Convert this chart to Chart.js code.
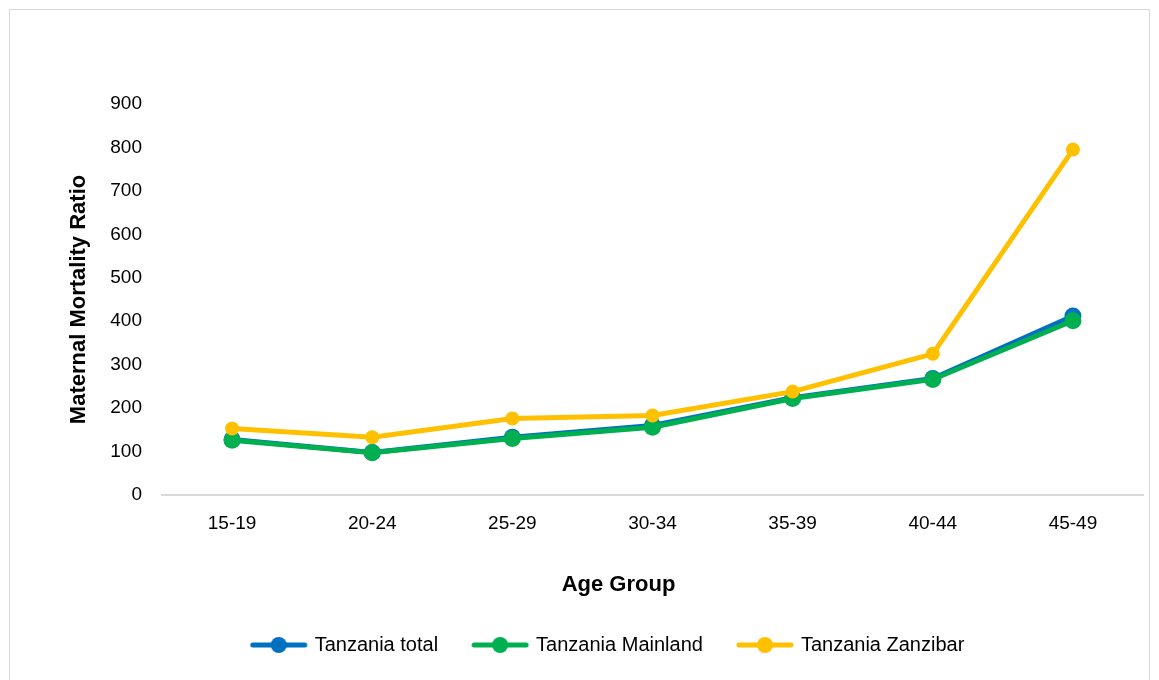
<!DOCTYPE html>
<html>
<head>
<meta charset="utf-8">
<script src="https://cdn.jsdelivr.net/npm/chart.js@4.4.0/dist/chart.umd.min.js"></script>
<style>
  html, body { margin: 0; padding: 0; background: #ffffff; }
  #frame { position: absolute; left: 9px; top: 9px; width: 1141px; height: 672px; border: 1px solid #d9d9d9; box-sizing: border-box; }
  #wrap { position: absolute; left: 0; top: 0; width: 1159px; height: 680px; }
</style>
</head>
<body>
<div id="frame"></div>
<div id="wrap"><canvas id="c" width="1159" height="680"></canvas></div>
<script>
const categories = ["15-19", "20-24", "25-29", "30-34", "35-39", "40-44", "45-49"];
const tanzaniaTotal = [128, 98, 133, 160, 224, 268, 412];
const tanzaniaMainland = [126, 97, 130, 156, 222, 266, 401];
const tanzaniaZanzibar = [153, 133, 176, 183, 238, 325, 795];
const seriesNames = ["Tanzania total", "Tanzania Mainland", "Tanzania Zanzibar"];
const yTicks = [0, 100, 200, 300, 400, 500, 600, 700, 800, 900];
const xTitle = "Age Group";
const yTitle = "Maternal Mortality Ratio";

const FONT = "'Liberation Sans Narrow', 'Arial Narrow', 'Liberation Sans', Arial, sans-serif";
const colors = ["#0070C0", "#00B050", "#FFC000"];

function legendIcon(color) {
  const cv = document.createElement('canvas');
  cv.width = 60; cv.height = 20;
  const g = cv.getContext('2d');
  g.strokeStyle = color; g.lineWidth = 5; g.lineCap = 'round';
  g.beginPath(); g.moveTo(4, 10); g.lineTo(56, 10); g.stroke();
  g.fillStyle = color;
  g.beginPath(); g.arc(30, 10, 8, 0, Math.PI * 2); g.fill();
  return cv;
}
const icons = colors.map(legendIcon);

const ds = (label, data, color, order, r) => ({
  label, data, borderColor: color, backgroundColor: color,
  borderWidth: 5, pointRadius: r, pointHoverRadius: r, pointBorderWidth: 0,
  pointBackgroundColor: color, tension: 0, order
});

const xTitlePlugin = {
  id: 'xTitlePlugin',
  afterDraw(chart) {
    const ctx = chart.ctx, a = chart.chartArea;
    ctx.save();
    ctx.font = "bold 22px " + FONT;
    ctx.fillStyle = '#000';
    ctx.textAlign = 'center';
    ctx.textBaseline = 'middle';
    ctx.fillText(xTitle, (a.left + a.right) / 2 - 34, a.bottom + 90);
    ctx.restore();
  }
};

new Chart(document.getElementById('c'), {
  type: 'line',
  data: {
    labels: categories,
    datasets: [
      ds(seriesNames[0], tanzaniaTotal, colors[0], 3, 8.5),
      ds(seriesNames[1], tanzaniaMainland, colors[1], 2, 8.5),
      ds(seriesNames[2], tanzaniaZanzibar, colors[2], 1, 7)
    ]
  },
  plugins: [xTitlePlugin],
  options: {
    responsive: false,
    animation: false,
    layout: { padding: { left: 74, right: 16, top: 104, bottom: 15 } },
    plugins: {
      tooltip: { enabled: false },
      legend: {
        position: 'bottom',
        labels: {
          usePointStyle: true,
          pointStyleWidth: 52,
          color: '#000',
          font: { family: FONT, size: 20 },
          padding: 36,
          generateLabels(chart) {
            return chart.data.datasets.map((d, i) => ({
              text: d.label, fillStyle: d.borderColor, strokeStyle: d.borderColor,
              pointStyle: icons[i], lineWidth: 0, hidden: false, datasetIndex: i, fontColor: '#000'
            }));
          }
        }
      }
    },
    scales: {
      x: {
        offset: true,
        grid: { display: false, drawTicks: false },
        border: { display: true, color: '#d9d9d9', width: 2 },
        ticks: { color: '#000', font: { family: FONT, size: 19 }, padding: 17 },
        title: { display: false },
        afterFit(s) { s.height = 104; }
      },
      y: {
        min: 0, max: 900,
        afterBuildTicks(s) { s.ticks = yTicks.map(v => ({ value: v })); },
        grid: { display: false, drawTicks: false },
        border: { display: false },
        ticks: { color: '#000', font: { family: FONT, size: 19 }, padding: 20 },
        title: { display: true, text: yTitle, color: '#000', font: { family: FONT, size: 22, weight: 'bold' }, padding: { top: -8, bottom: 0 } },
        afterFit(s) { s.width = 88; }
      }
    }
  }
});
</script>
</body>
</html>
